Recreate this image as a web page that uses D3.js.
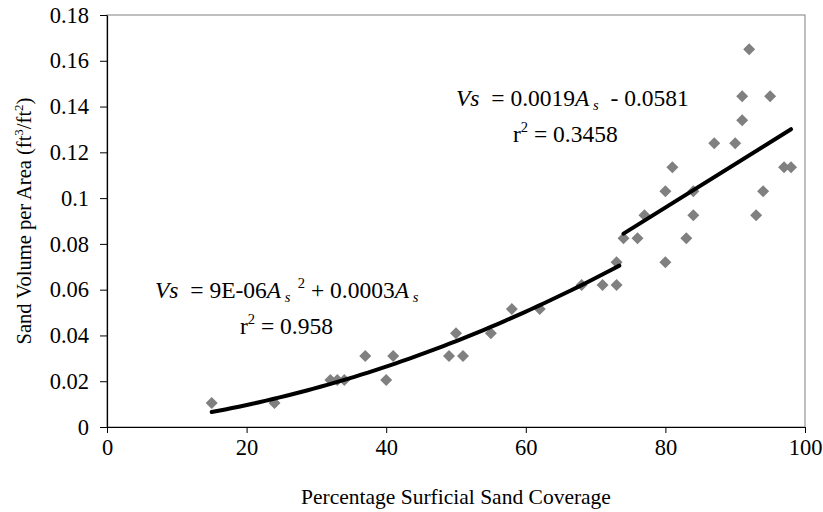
<!DOCTYPE html>
<html>
<head>
<meta charset="utf-8">
<script src="https://cdn.jsdelivr.net/npm/d3@7"></script>
<style>
  body { margin: 0; background: #fff; }
  svg text { font-family: "Liberation Serif", "Times New Roman", serif; fill: #000; white-space: pre; }
</style>
</head>
<body>
<svg id="chart" width="823" height="512"></svg>
<script>
// ---- data ----
const coverage = [15,24,32,33,34,37,40,41,49,50,51,55,58,62,68,71,73,73,74,76,77,80,80,81,83,84,84,87,90,91,91,92,93,94,95,97,98];
const sandVolume = [0.0105,0.0105,0.0205,0.0205,0.0205,0.031,0.0205,0.031,0.031,0.041,0.031,0.041,0.0515,0.0515,0.062,0.062,0.062,0.072,0.0825,0.0825,0.0925,0.072,0.103,0.1135,0.0825,0.0925,0.103,0.124,0.124,0.134,0.1445,0.165,0.0925,0.103,0.1445,0.1135,0.1135];
// trend lines as drawn in the reference: [x from, x to] and coefficients
const quadRange = [15, 73.4];
const quadCoef = [0.000009, 0.0003];      // a*x^2 + b*x
const linRange = [74, 98];
const linCoef = [0.0019, -0.0561];        // m*x + c (line as drawn)
const xTicks = [0,20,40,60,80,100];
const yTicks = [0,0.02,0.04,0.06,0.08,0.1,0.12,0.14,0.16,0.18];
const xTickLabels = ["0","20","40","60","80","100"];
const yTickLabels = ["0","0.02","0.04","0.06","0.08","0.1","0.12","0.14","0.16","0.18"];

const svg = d3.select("#chart");
const m = {left: 107, top: 15, right: 18, bottom: 85};
const W = 823 - m.left - m.right, H = 512 - m.top - m.bottom;
const g = svg.append("g").attr("transform", `translate(${m.left},${m.top})`);

const x = d3.scaleLinear().domain([0,100]).range([0,W]);
const y = d3.scaleLinear().domain([0,0.18]).range([H,0]);

// plot frame
g.append("rect").attr("x",0).attr("y",0).attr("width",W).attr("height",H)
  .attr("fill","none").attr("stroke","#808080").attr("stroke-width",1);

// axes
const xAxis = g.append("g").attr("transform",`translate(0,${H})`)
  .call(d3.axisBottom(x).tickValues(xTicks).tickFormat((d,i)=>xTickLabels[i]).tickSize(6).tickSizeOuter(0).tickPadding(6));
const yAxis = g.append("g")
  .call(d3.axisLeft(y).tickValues(yTicks).tickFormat((d,i)=>yTickLabels[i]).tickSize(7).tickSizeOuter(0).tickPadding(11));
[xAxis,yAxis].forEach(a=>{
  a.select(".domain").attr("stroke","#000").attr("stroke-width",1.2);
  a.selectAll(".tick line").attr("stroke","#000");
  a.selectAll("text").style("font-family",'"Liberation Serif", serif').style("font-size","22.5px").attr("fill","#000");
});

// points
const pts = coverage.map((c,i)=>({x:c, y:sandVolume[i]}));
g.selectAll("path.pt").data(pts).enter().append("path")
  .attr("class","pt")
  .attr("d", d3.symbol().type(d3.symbolSquare).size(72))
  .attr("transform", d=>`translate(${x(d.x)},${y(d.y)}) rotate(45)`)
  .attr("fill","#808080");

// trend lines
const curve = d3.range(quadRange[0], quadRange[1]+0.001, (quadRange[1]-quadRange[0])/60)
  .map(X=>({x:X, y:quadCoef[0]*X*X+quadCoef[1]*X}));
const lineData = linRange.map(X=>({x:X, y:linCoef[0]*X+linCoef[1]}));
const lineGen = d3.line().x(d=>x(d.x)).y(d=>y(d.y));
[curve,lineData].forEach(d=>{
  g.append("path").attr("d",lineGen(d)).attr("fill","none")
   .attr("stroke","#000").attr("stroke-width",4).attr("stroke-linecap","round");
});

// equation labels
function eq(parent, xPos, yPos, parts, fs){
  const t = parent.append("text").attr("x",xPos).attr("y",yPos).style("font-size",fs+"px");
  parts.forEach(p=>{
    const ts = t.append("tspan").text(p.t);
    if(p.i) ts.style("font-style","italic");
    if(p.sub) ts.style("font-size",(fs*0.62)+"px").attr("dy",4);
    if(p.sup) ts.style("font-size",(fs*0.62)+"px").attr("dy",p.sup);
    if(p.back) ts.attr("dy",p.back);
  });
  return t;
}
eq(svg, 155, 298, [
  {t:"Vs",i:1},{t:"  = 9E-06"},{t:"A",i:1},{t:" s",i:1,sub:1},{t:"  2",sup:-14},{t:" + 0.0003",back:10},{t:"A",i:1},{t:" s",i:1,sub:1}
], 23.5);
eq(svg, 240, 334, [{t:"r"},{t:"2",sup:-10},{t:" = 0.958",back:10}], 23.5);
eq(svg, 456, 106, [
  {t:"Vs",i:1},{t:"  = 0.0019"},{t:"A",i:1},{t:" s",i:1,sub:1},{t:"  - 0.0581",back:-4}
], 23.5);
eq(svg, 513, 142, [{t:"r"},{t:"2",sup:-10},{t:" = 0.3458",back:10}], 23.5);

// axis titles
svg.append("text").attr("x", m.left + W/2).attr("y", 504).attr("text-anchor","middle")
  .style("font-size","21.5px").text("Percentage Surficial Sand Coverage");
const yt = svg.append("text").attr("transform",`translate(31,${m.top+H/2}) rotate(-90)`)
  .attr("text-anchor","middle").style("font-size","20.5px");
yt.append("tspan").text("Sand Volume per Area (ft");
yt.append("tspan").text("3").style("font-size","13px").attr("dy",-8);
yt.append("tspan").text("/ft").attr("dy",8);
yt.append("tspan").text("2").style("font-size","13px").attr("dy",-8);
yt.append("tspan").text(")").attr("dy",8);
</script>
</body>
</html>
